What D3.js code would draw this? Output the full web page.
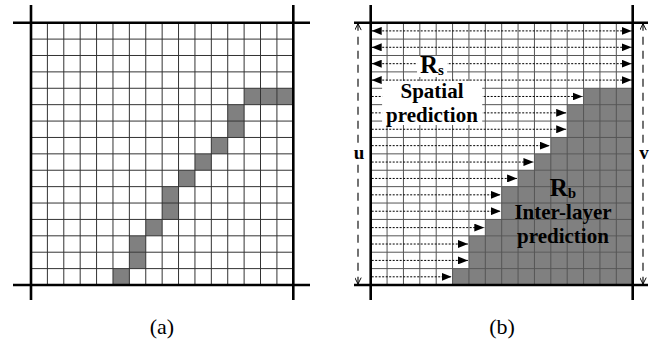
<!DOCTYPE html>
<html><head><meta charset="utf-8">
<script src="https://cdn.jsdelivr.net/npm/d3@7"></script>
<style>html,body{margin:0;padding:0;background:#fff;}svg{display:block;}
text{font-family:"Liberation Serif","DejaVu Serif",serif;}</style>
</head><body>
<svg id="c" width="656" height="342"></svg>
<script>
// ---- data ----
const gridN = 16;
// column index where the grey (inter-layer) region starts in each row (16 = none)
const boundaryCol = [16,16,16,16,13,12,12,11,10,9,8,8,7,6,6,5];
// grey cells of panel (a): [row, col]
const curveCells = [[4,13],[4,14],[4,15],[5,12],[6,12],[7,11],[8,10],[9,9],[10,8],[11,8],[12,7],[13,6],[14,6],[15,5]];
const panelLabels = ["(a)", "(b)"];
const sideLabels = ["u", "v"];
const regionS = {main:"R", sub:"s", lines:["Spatial","prediction"]};
const regionB = {main:"R", sub:"b", lines:["Inter-layer","prediction"]};

const svg = d3.select("#c");
const y = d3.scaleLinear().domain([0, gridN]).range([22.7, 285]);
const xA = d3.scaleLinear().domain([0, gridN]).range([31, 293.3]);
const xB = d3.scaleLinear().domain([0, gridN]).range([370.7, 632.7]);
const grey = "#808080";

const defs = svg.append("defs");
defs.append("marker").attr("id","ah").attr("viewBox","0 0 10 8").attr("refX",10).attr("refY",4)
  .attr("markerWidth",10).attr("markerHeight",8).attr("markerUnits","userSpaceOnUse").attr("orient","auto-start-reverse")
  .append("path").attr("d","M0,0 L10,4 L0,8 Z").attr("fill","#000");
defs.append("marker").attr("id","oh").attr("viewBox","0 0 10 8").attr("refX",9).attr("refY",4)
  .attr("markerWidth",8).attr("markerHeight",7).attr("markerUnits","userSpaceOnUse").attr("orient","auto-start-reverse")
  .append("path").attr("d","M1,0 L9,4 L1,8").attr("fill","none").attr("stroke","#000").attr("stroke-width",1.2);

function gridLines(g, x, color) {
  const idx = d3.range(1, gridN);
  g.selectAll(".v").data(idx).join("line")
    .attr("x1", d => x(d)).attr("x2", d => x(d)).attr("y1", y(0)).attr("y2", y(gridN))
    .attr("stroke", color).attr("stroke-width", 1);
  g.selectAll(".h").data(idx).join("line")
    .attr("y1", d => y(d)).attr("y2", d => y(d)).attr("x1", x(0)).attr("x2", x(gridN))
    .attr("stroke", color).attr("stroke-width", 1);
}
function frame(g, x, hx0, hx1) {
  [0, gridN].forEach(d => {
    g.append("line").attr("x1", hx0).attr("x2", hx1).attr("y1", y(d)).attr("y2", y(d))
      .attr("stroke", "#000").attr("stroke-width", 2.6);
    g.append("line").attr("x1", x(d)).attr("x2", x(d)).attr("y1", 5).attr("y2", 300)
      .attr("stroke", "#000").attr("stroke-width", 2.6);
  });
}

// ---- panel (a) ----
const gA = svg.append("g");
gA.selectAll("rect.cell").data(curveCells).join("rect")
  .attr("x", d => xA(d[1])).attr("y", d => y(d[0]))
  .attr("width", xA(1) - xA(0)).attr("height", y(1) - y(0)).attr("fill", grey);
gridLines(gA, xA, "#333");
frame(gA, xA, 13, 310);

// ---- panel (b) ----
const gB = svg.append("g");
gB.selectAll("rect.reg").data(boundaryCol.map((c, r) => ({r, c})).filter(d => d.c < gridN)).join("rect")
  .attr("x", d => xB(d.c)).attr("y", d => y(d.r))
  .attr("width", d => xB(gridN) - xB(d.c)).attr("height", y(1) - y(0)).attr("fill", grey);
gridLines(gB, xB, "#555");

// arrows
const rows = boundaryCol.map((c, r) => ({r, c}));
gB.selectAll("line.arr").data(rows).join("line")
  .attr("x1", xB(0) + 1)
  .attr("x2", d => d.c >= gridN ? xB(gridN) - 1 : xB(d.c) - 1)
  .attr("y1", d => y(d.r + 0.5)).attr("y2", d => y(d.r + 0.5))
  .attr("stroke", "#000").attr("stroke-width", 1).attr("stroke-dasharray", "2,1.5")
  .attr("marker-end", "url(#ah)")
  .attr("marker-start", d => d.c >= gridN ? "url(#ah)" : null);

// region texts
function regionText(g, cx, baseR, def, lineBases, withBox) {
  const tg = g.append("g");
  const boxG = tg.append("g");
  const t1 = tg.append("text").attr("x", cx).attr("y", baseR).attr("text-anchor", "middle")
    .attr("font-weight", "bold");
  t1.append("tspan").attr("font-size", 25).text(def.main);
  t1.append("tspan").attr("font-size", 15).attr("dy", 2).text(def.sub);
  const lt = def.lines.map((s, i) => tg.append("text").attr("x", cx).attr("y", lineBases[i])
    .attr("text-anchor", "middle").attr("font-weight", "bold")
    .attr("font-size", 21).attr("fill", "#000").text(s));
  if (withBox) {
    const b1 = t1.node().getBBox();
    boxG.append("rect").attr("x", b1.x - 3).attr("y", b1.y + 5).attr("width", b1.width + 6)
      .attr("height", b1.height - 6).attr("fill", "#fff");
    const bs = lt.map(t => t.node().getBBox());
    const x0 = d3.min(bs, b => b.x) - 4, x1 = d3.max(bs, b => b.x + b.width) + 4;
    const y0 = d3.min(bs, b => b.y) + 2, y1 = d3.max(bs, b => b.y + b.height) - 2;
    boxG.append("rect").attr("x", x0).attr("y", y0).attr("width", x1 - x0).attr("height", y1 - y0).attr("fill", "#fff");
  }
}
regionText(gB, 432, 73, regionS, [98, 122], true);
regionText(gB, 563, 196, regionB, [219, 243], false);

frame(gB, xB, 354, 648);

// u / v dimension arrows
const sides = [{x: 358, lab: sideLabels[0]}, {x: 643, lab: sideLabels[1]}];
sides.forEach(s => {
  const mid = y(gridN / 2);
  [[y(0) + 1, mid - 11], [mid + 11, y(gridN) - 1]].forEach((seg, i) => {
    svg.append("line").attr("x1", s.x).attr("x2", s.x)
      .attr("y1", i === 0 ? seg[1] : seg[0]).attr("y2", i === 0 ? seg[0] : seg[1])
      .attr("stroke", "#000").attr("stroke-width", 1.1).attr("stroke-dasharray", "8,6")
      .attr("marker-end", "url(#oh)");
  });
  svg.append("text").attr("x", s.x + 1).attr("y", mid + 5).attr("text-anchor", "middle")
    .attr("font-weight", "bold").attr("font-size", 19).text(s.lab);
});

// panel labels
[162, 502].forEach((cx, i) => {
  svg.append("text").attr("x", cx).attr("y", 334).attr("text-anchor", "middle")
    .attr("font-size", 22).text(panelLabels[i]);
});
</script>
</body></html>
